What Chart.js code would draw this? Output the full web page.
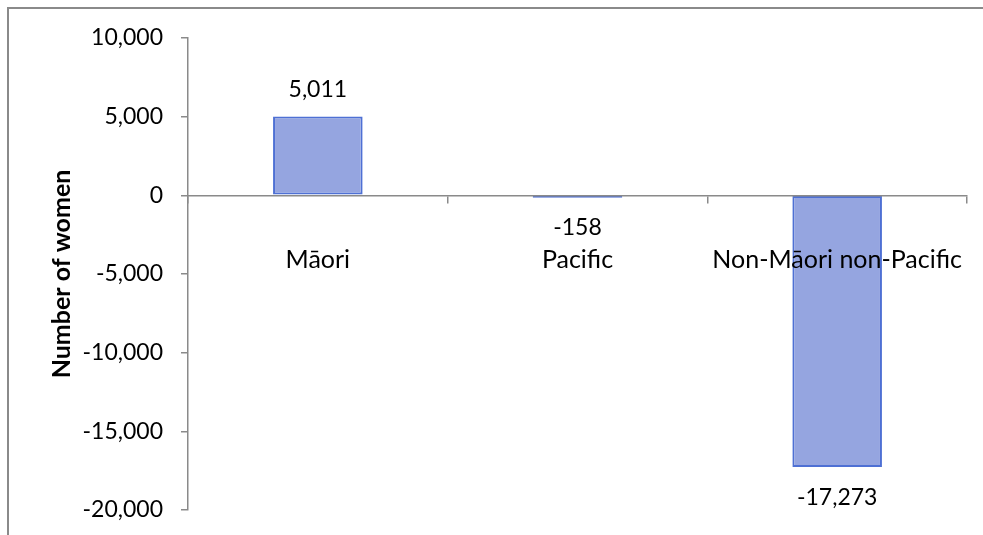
<!DOCTYPE html>
<html>
<head>
<meta charset="utf-8">
<script src="https://cdn.jsdelivr.net/npm/chart.js@4.4.1/dist/chart.umd.min.js"></script>
<style>
  html, body { margin: 0; padding: 0; background: #fff; overflow: hidden; }
  #wrap { position: relative; width: 983px; height: 535px; }
  #frame { position: absolute; left: 7px; top: 7px; width: 1200px; height: 800px; border: 2px solid #8a8a8a; box-sizing: border-box; }
  #chart { position: absolute; left: 0; top: 0; }
</style>
</head>
<body>
<div id="wrap">
  <div id="frame"></div>
  <canvas id="chart" width="983" height="535"></canvas>
</div>
<script>
// --- Data ---
const categories = ['Māori', 'Pacific', 'Non-Māori non-Pacific'];
const changeValues = [5011, -158, -17273];
const yMin = -20000;
const yMax = 10000;
const yStep = 5000;

const FONT = 'Lato, "Open Sans", sans-serif';
const AXIS_GRAY = '#8a8a8a';

// --- Value labels above / below each bar ---
const barValueLabels = {
  id: 'barValueLabels',
  afterDraw(chart) {
    const ctx = chart.ctx;
    const meta = chart.getDatasetMeta(0);
    ctx.save();
    ctx.font = '23px ' + FONT;
    ctx.fillStyle = '#000';
    ctx.textAlign = 'center';
    ctx.textBaseline = 'middle';
    meta.data.forEach((bar, i) => {
      const v = changeValues[i];
      const y = v >= 0 ? bar.y - 27 : bar.y + 30;
      ctx.fillText(v.toLocaleString('en-US'), bar.x, y);
    });
    ctx.restore();
  }
};

new Chart(document.getElementById('chart').getContext('2d'), {
  type: 'bar',
  data: {
    labels: categories,
    datasets: [{
      data: changeValues,
      backgroundColor: '#95a5e0',
      borderColor: '#4e70d4',
      borderWidth: 2,
      borderSkipped: false,
      categoryPercentage: 1,
      barPercentage: 0.345
    }]
  },
  options: {
    responsive: false,
    animation: false,
    layout: { padding: { top: 38, bottom: 25, left: 0, right: 16 } },
    plugins: {
      legend: { display: false },
      tooltip: { enabled: false }
    },
    scales: {
      x: {
        type: 'category',
        position: { y: 0 },
        offset: true,
        afterFit(scale) { scale.paddingLeft = 0; scale.paddingRight = 0; },
        grid: { offset: true, drawOnChartArea: false, tickLength: 7, color: AXIS_GRAY, lineWidth: 1.5, z: 1 },
        border: { color: AXIS_GRAY, width: 1.5, z: 1 },
        ticks: { padding: 43, color: '#000', font: { family: FONT, size: 25 }, maxRotation: 0, z: 1 }
      },
      y: {
        min: yMin,
        max: yMax,
        afterFit(scale) { scale.width = 188; scale.paddingTop = 0; scale.paddingBottom = 0; },
        grid: { drawOnChartArea: false, tickLength: 7, color: AXIS_GRAY, lineWidth: 1.5 },
        border: { color: AXIS_GRAY, width: 1.5 },
        ticks: {
          stepSize: yStep,
          padding: 18,
          color: '#000',
          font: { family: FONT, size: 23 },
          callback: v => v.toLocaleString('en-US')
        },
        title: {
          display: true,
          text: 'Number of women',
          color: '#000',
          font: { family: FONT, size: 25, weight: 'bold' },
          padding: { top: 47, bottom: 0 }
        }
      }
    }
  },
  plugins: [barValueLabels]
});
</script>
</body>
</html>
